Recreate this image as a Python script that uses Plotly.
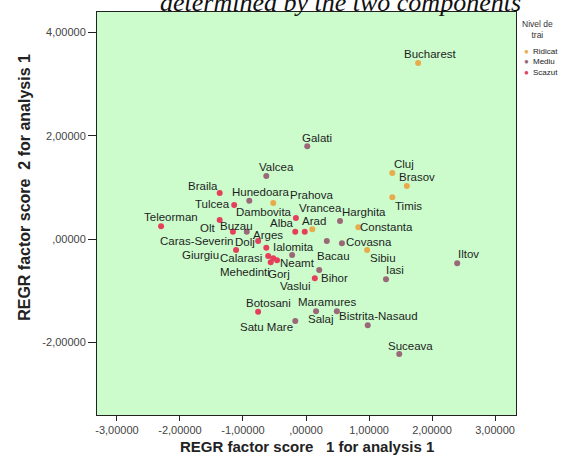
import plotly.graph_objects as go

# ---- data ----
names = ["Bucharest", "Galati", "Cluj", "Brasov", "Timis", "Valcea", "Braila", "Hunedoara",
         "Dambovita", "Harghita", "Tulcea", "Teleorman", "Olt", "Buzau", "Arges", "Alba",
         "Arad", "Prahova", "Vrancea", "Constanta", "Covasna", "Bacau", "Ialomita",
         "Caras-Severin", "Dolj", "Giurgiu", "Calarasi", "Neamt", "Sibiu", "Iasi", "Iltov",
         "Mehedinti", "Gorj", "Vaslui", "Bihor", "Botosani", "Maramures", "Salaj",
         "Bistrita-Nasaud", "Satu Mare", "Suceava"]
score1 = [1.78, 0.02, 1.37, 1.60, 1.37, -0.63, -1.37, -0.90,
          -0.52, 0.54, -1.14, -2.30, -1.37, -1.16, -0.94, -0.17,
          0.10, -0.16, -0.02, 0.83, 0.57, 0.33, -0.22,
          -1.11, -0.76, -0.63, -0.60, 0.21, 0.97, 1.27, 2.40,
          -0.56, -0.46, -0.52, 0.14, -0.76, 0.16, 0.49,
          0.98, -0.17, 1.48]
score2 = [3.41, 1.80, 1.28, 1.03, 0.81, 1.22, 0.89, 0.74,
          0.70, 0.35, 0.66, 0.25, 0.37, 0.14, 0.14, 0.14,
          0.19, 0.41, 0.14, 0.23, -0.08, -0.04, -0.31,
          -0.21, -0.04, -0.17, -0.33, -0.60, -0.21, -0.78, -0.47,
          -0.45, -0.41, -0.37, -0.76, -1.41, -1.40, -1.40,
          -1.67, -1.59, -2.23]
level = ["Ridicat", "Mediu", "Ridicat", "Ridicat", "Ridicat", "Mediu", "Scazut", "Mediu",
         "Ridicat", "Mediu", "Scazut", "Scazut", "Scazut", "Scazut", "Mediu", "Scazut",
         "Ridicat", "Scazut", "Scazut", "Ridicat", "Mediu", "Mediu", "Mediu",
         "Scazut", "Scazut", "Scazut", "Scazut", "Mediu", "Ridicat", "Mediu", "Mediu",
         "Scazut", "Scazut", "Scazut", "Scazut", "Scazut", "Mediu", "Mediu",
         "Mediu", "Mediu", "Mediu"]
levels = ["Ridicat", "Mediu", "Scazut"]
legend_title = "Nivel de<br>trai"
x_ticks = [-3, -2, -1, 0, 1, 2, 3]
x_ticklabels = ["-3,00000", "-2,00000", "-1,00000", ",00000", "1,00000", "2,00000", "3,00000"]
y_ticks = [-2, 0, 2, 4]
y_ticklabels = ["-2,00000", ",00000", "2,00000", "4,00000"]

# ---- styling ----
colors = {"Ridicat": "#e8ab4c", "Mediu": "#9a6878", "Scazut": "#e4405c"}
# label offsets in pixels (dx, dy) relative to each point
label_offsets = {
    "Bucharest": (12, 9), "Galati": (10, 8), "Cluj": (12, 9), "Brasov": (10, 9),
    "Timis": (16, -9), "Valcea": (10, 9), "Braila": (-17, 7), "Hunedoara": (12, 9),
    "Dambovita": (-9, -9), "Harghita": (24, 9), "Tulcea": (-22, 1), "Teleorman": (10, 9),
    "Olt": (-12, -8), "Buzau": (4, 6), "Arges": (21, -3), "Alba": (-13, 9),
    "Arad": (2, 8), "Prahova": (16, 23), "Vrancea": (16, 24), "Constanta": (28, 0),
    "Covasna": (27, 1), "Bacau": (7, -15), "Ialomita": (1, 8), "Caras-Severin": (-39, 9),
    "Dolj": (-13, -1), "Giurgiu": (-66, -7), "Calarasi": (-27, -2), "Neamt": (-22, 7),
    "Sibiu": (16, -8), "Iasi": (9, 9), "Iltov": (11, 9), "Mehedinti": (-26, -10),
    "Gorj": (2, -14), "Vaslui": (22, -28), "Bihor": (20, 0), "Botosani": (10, 9),
    "Maramures": (11, 9), "Salaj": (-16, -8), "Bistrita-Nasaud": (11, 9),
    "Satu Mare": (-29, -6), "Suceava": (11, 8),
}
font_family = "Liberation Sans, Arial, sans-serif"

fig = go.Figure()
for lv in levels:
    idx = [i for i, l in enumerate(level) if l == lv]
    fig.add_trace(go.Scatter(
        x=[score1[i] for i in idx], y=[score2[i] for i in idx],
        mode="markers", name=lv, showlegend=False,
        marker=dict(color=colors[lv], size=6, line=dict(width=0)),
    ))

annotations = []
for n, xv, yv in zip(names, score1, score2):
    dx, dy = label_offsets[n]
    annotations.append(dict(x=xv, y=yv, xref="x", yref="y", text=n, showarrow=False,
                            xshift=dx, yshift=dy, xanchor="center", yanchor="middle",
                            font=dict(size=11.5, color="#1e1e1e", family=font_family)))

# axis titles
annotations.append(dict(x=0.5, y=-0.077, xref="paper", yref="paper",
                        xanchor="center", yanchor="middle",
                        text="<b>REGR factor score \u00a0 1 for analysis 1</b>", showarrow=False,
                        font=dict(size=15, color="#222", family=font_family)))
annotations.append(dict(x=-0.172, y=0.566, xref="paper", yref="paper", textangle=-90,
                        xanchor="center", yanchor="middle",
                        text="<b>REGR factor score \u00a02 for analysis 1</b>", showarrow=False,
                        font=dict(size=16, color="#222", family=font_family)))
# chart title (cut off at the top, as in the reference)
annotations.append(dict(x=0.58, y=0.982, xref="paper", yref="paper", xanchor="center", yanchor="bottom",
                        text="<i>determined by the two components</i>", showarrow=False,
                        font=dict(size=26, color="#111", family="Liberation Serif, Times New Roman, serif")))

# compact legend (as in the reference)
annotations.append(dict(x=1.0525, y=0.957, xref="paper", yref="paper", text=legend_title,
                        showarrow=False, xanchor="center", yanchor="middle", align="center",
                        font=dict(size=8.5, color="#333", family=font_family)))
annotations.append(dict(x=1.026, y=0.877, xref="paper", yref="paper",
                        text="<br>".join("<span style='color:%s'>\u25cf</span>" % colors[lv] for lv in levels),
                        showarrow=False, xanchor="center", yanchor="middle", align="center",
                        font=dict(size=8, color="#333", family=font_family)))
annotations.append(dict(x=1.035, y=0.877, xref="paper", yref="paper", text="<br>".join(levels),
                        showarrow=False, xanchor="left", yanchor="middle", align="left",
                        font=dict(size=8, color="#222", family=font_family)))

fig.update_layout(
    width=578, height=456,
    margin=dict(l=97, r=62, t=12, b=41),
    paper_bgcolor="white", plot_bgcolor="#ccfccc",
    font=dict(family=font_family, size=11, color="#444"),
    annotations=annotations,
    showlegend=False,
)
fig.update_xaxes(range=[-3.317, 3.333], tickvals=x_ticks, ticktext=x_ticklabels,
                 showgrid=False, zeroline=False, showline=True, linecolor="#222", linewidth=1,
                 mirror=True, ticks="outside", ticklen=5, tickcolor="#222",
                 tickfont=dict(size=11, color="#444"))
fig.update_yaxes(range=[-3.41, 4.40], tickvals=y_ticks, ticktext=y_ticklabels,
                 showgrid=False, zeroline=False, showline=True, linecolor="#222", linewidth=1,
                 mirror=True, ticks="outside", ticklen=8, tickcolor="#222",
                 tickfont=dict(size=11, color="#444"))

fig.write_html("out.html", config={"displayModeBar": False},
               post_script="document.body.style.margin='0';document.body.style.overflow='hidden';")
